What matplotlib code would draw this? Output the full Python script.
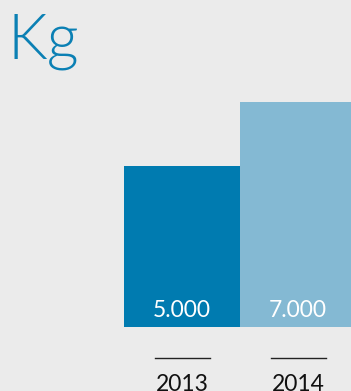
import matplotlib.pyplot as plt
import matplotlib.transforms as mtransforms

years = ["2013", "2014"]
values = [5000, 7000]
labels = ["5.000", "7.000"]
colors = ["#007bb0", "#84b9d3"]
bg = "#ebebeb"

W, H = 351, 391
fig = plt.figure(figsize=(W / 100, H / 100), dpi=100, facecolor=bg)
# axes spans from bar left edge (124px) to 356px, bottom at 326.7px, top at 102px
ax = fig.add_axes([124 / W, (H - 326.7) / H, 232 / W, 224.7 / H])
ax.set_facecolor(bg)
x = range(len(years))
ax.bar(x, values, width=1.0, color=colors, align="center")
ax.set_xlim(-0.5, 1.5)
ax.set_ylim(0, 7000)
ax.axis("off")

for i, lab in enumerate(labels):
    ax.annotate(lab, xy=(i, 0), xycoords="data", xytext=(0, 9.7 * 0.72),
                textcoords="offset points", ha="center", va="baseline",
                color="white", fontsize=16.5, family="Lato", clip_on=False)

trans = mtransforms.blended_transform_factory(ax.transData, ax.transAxes)
for i, yr in enumerate(years):
    ax.plot([i - 0.235, i + 0.245], [-31 / 224.7, -31 / 224.7], transform=trans,
            color="#222222", lw=1.0, clip_on=False)
    # the year labels run off the bottom edge, as in the reference
    ax.annotate(yr, xy=(i, 0), xycoords="data", xytext=(0.5, -47 * 0.72),
                textcoords="offset points", ha="center", va="top",
                color="#111111", fontsize=16.5, family="Lato", annotation_clip=False)

fig.text(7 / W, 1 - 58 / H, "Kg", color="#0b80b4", fontsize=45, family="Lato",
         fontweight=300, ha="left", va="baseline")

fig.savefig("out.png", dpi=100, facecolor=bg)
